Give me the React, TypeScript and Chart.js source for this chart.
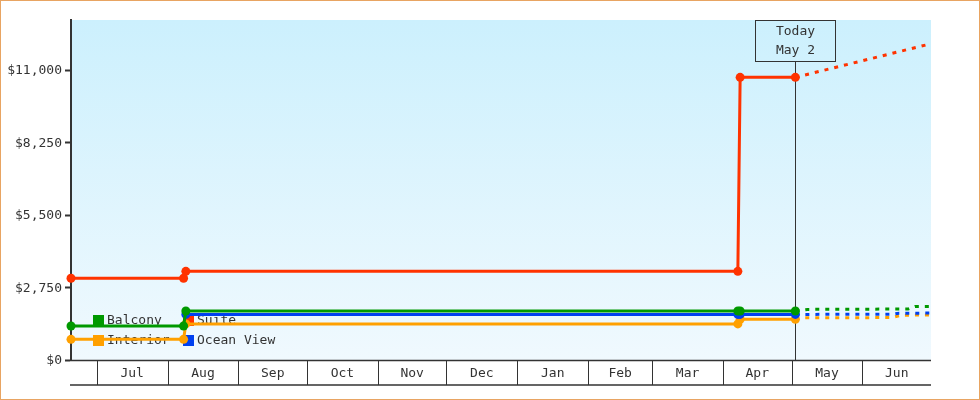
import React, { useEffect, useRef } from "react";
import { Chart, registerables } from "chart.js";

Chart.register(...registerables);

// ---------- data ----------
const AXIS_START = "2024-06-19T18:00:00Z";
const AXIS_END = "2025-07-01T00:00:00Z";
const TODAY = "2025-05-02T16:00:00Z";
const TODAY_LABEL = ["Today", "May 2"];

const MONTH_LABELS = ["Jul", "Aug", "Sep", "Oct", "Nov", "Dec", "Jan", "Feb", "Mar", "Apr", "May", "Jun"];
const MONTH_STARTS = [
  "2024-07-01", "2024-08-01", "2024-09-01", "2024-10-01", "2024-11-01", "2024-12-01",
  "2025-01-01", "2025-02-01", "2025-03-01", "2025-04-01", "2025-05-01", "2025-06-01", "2025-07-01",
];

const Y_MAX = 12900;
const Y_TICKS = [0, 2750, 5500, 8250, 11000];

const SERIES_NAMES = ["Suite", "Balcony", "Ocean View", "Interior"];
const SERIES_COLORS = ["#ff3300", "#009900", "#0040f0", "#ffa000"];

// history (solid, with markers)
const HIST_DATES = [AXIS_START, "2024-08-08", "2024-08-09", "2025-04-07T12:00:00Z", "2025-04-08T12:00:00Z", TODAY];
const suiteHist = [3100, 3100, 3365, 3365, 10725, 10725];
const balconyHist = [1290, 1290, 1860, 1860, 1860, 1860];
const oceanHist = [null, null, 1730, 1730, 1730, 1730];
const interiorHist = [785, 785, 1370, 1370, 1545, 1545];

// projections (dotted, after today)
const suiteProjDates = ["2025-07-01"];
const suiteProj = [12000];
const balconyProjDates = ["2025-05-08", "2025-06-21", "2025-06-24", "2025-07-01"];
const balconyProj = [1920, 1935, 2030, 2035];
const oceanProjDates = ["2025-06-14", "2025-06-17", "2025-07-01"];
const oceanProj = [1735, 1775, 1780];
const interiorProjDates = ["2025-05-06", "2025-06-14", "2025-06-18", "2025-07-01"];
const interiorProj = [1600, 1610, 1700, 1710];

// legend layout order (column-wise)
const LEGEND_ORDER = [["Balcony", "Interior"], ["Suite", "Ocean View"]];

// ---------- helpers ----------
const day = (s: string) => Date.parse(s.length === 10 ? s + "T00:00:00Z" : s) / 86400000;
const FONT = "13px 'DejaVu Sans Mono', monospace";
const INK = "#333333";

function buildPoints(hist: (number | null)[], projDates: string[], proj: number[]) {
  const pts: { x: number; y: number }[] = [];
  HIST_DATES.forEach((d, i) => {
    if (hist[i] !== null) pts.push({ x: day(d), y: hist[i] as number });
  });
  projDates.forEach((d, i) => pts.push({ x: day(d), y: proj[i] }));
  return pts;
}

const SERIES_POINTS = [
  buildPoints(suiteHist, suiteProjDates, suiteProj),
  buildPoints(balconyHist, balconyProjDates, balconyProj),
  buildPoints(oceanHist, oceanProjDates, oceanProj),
  buildPoints(interiorHist, interiorProjDates, interiorProj),
];

const todayX = day(TODAY);

const bgPlugin = {
  id: "bgPlugin",
  beforeDraw(chart: any) {
    const { ctx, chartArea: a } = chart;
    const g = ctx.createLinearGradient(0, a.top, 0, a.bottom);
    g.addColorStop(0, "#ccf0fd");
    g.addColorStop(1, "#f0f9fe");
    ctx.save();
    ctx.fillStyle = g;
    ctx.fillRect(a.left, a.top, a.right - a.left, a.bottom - a.top);
    ctx.restore();
  },
};

const underPlugin = {
  id: "underPlugin",
  beforeDatasetsDraw(chart: any) {
    const { ctx, chartArea: a } = chart;
    const xs = chart.scales.x;
    ctx.save();
    // legend
    ctx.font = FONT;
    ctx.textBaseline = "middle";
    ctx.textAlign = "left";
    LEGEND_ORDER.forEach((col, ci) => {
      col.forEach((name, ri) => {
        const idx = SERIES_NAMES.indexOf(name);
        const sx = a.left + 22 + ci * 90;
        const sy = a.bottom - 45 + ri * 20;
        ctx.fillStyle = SERIES_COLORS[idx];
        ctx.fillRect(sx, sy, 11, 11);
        ctx.fillStyle = INK;
        ctx.fillText(name, sx + 14, sy + 6);
      });
    });
    // today marker
    const tx = Math.round(xs.getPixelForValue(todayX)) + 0.5;
    const bw = 80, bh = 41;
    ctx.strokeStyle = INK;
    ctx.lineWidth = 1;
    ctx.beginPath();
    ctx.moveTo(tx, a.top + bh);
    ctx.lineTo(tx, a.bottom);
    ctx.stroke();
    ctx.strokeRect(tx - bw / 2, a.top + 0.5, bw, bh);
    ctx.fillStyle = INK;
    ctx.textAlign = "center";
    ctx.fillText(TODAY_LABEL[0], tx, a.top + 12);
    ctx.fillText(TODAY_LABEL[1], tx, a.top + 31);
    ctx.restore();
  },
};

const bandPlugin = {
  id: "bandPlugin",
  afterDraw(chart: any) {
    const { ctx, chartArea: a } = chart;
    const xs = chart.scales.x;
    const top = a.bottom;
    const bottom = a.bottom + 25;
    ctx.save();
    ctx.strokeStyle = INK;
    ctx.lineWidth = 1.5;
    ctx.beginPath();
    ctx.moveTo(a.left - 1, top + 0.5);
    ctx.lineTo(a.right, top + 0.5);
    ctx.moveTo(a.left - 1, bottom);
    ctx.lineTo(a.right, bottom);
    ctx.stroke();
    ctx.lineWidth = 1;
    ctx.font = FONT;
    ctx.fillStyle = INK;
    ctx.textAlign = "center";
    ctx.textBaseline = "middle";
    for (let i = 0; i < MONTH_LABELS.length; i++) {
      const x0 = xs.getPixelForValue(day(MONTH_STARTS[i]));
      const x1 = xs.getPixelForValue(day(MONTH_STARTS[i + 1]));
      const px = Math.round(x0) + 0.5;
      ctx.beginPath();
      ctx.moveTo(px, top);
      ctx.lineTo(px, bottom);
      ctx.stroke();
      ctx.fillText(MONTH_LABELS[i], (x0 + x1) / 2, top + 13.5);
    }
    ctx.restore();
  },
};

export default function App() {
  const ref = useRef<HTMLCanvasElement | null>(null);

  useEffect(() => {
    if (!ref.current) return;
    const datasets = SERIES_NAMES.map((name, i) => ({
      label: name,
      data: SERIES_POINTS[i],
      borderColor: SERIES_COLORS[i],
      backgroundColor: SERIES_COLORS[i],
      pointBackgroundColor: SERIES_COLORS[i],
      pointBorderWidth: 0,
      pointRadius: (c: any) => (c.raw && c.raw.x > todayX + 1e-6 ? 0 : 4.5),
      borderWidth: 3,
      tension: 0,
      fill: false,
      clip: false as any,
      segment: {
        borderDash: (c: any) => (c.p0.parsed.x >= todayX - 1e-6 ? [4, 6] : undefined),
      },
    }));

    const chart = new Chart(ref.current, {
      type: "line",
      data: { datasets },
      options: {
        animation: false,
        responsive: false,
        devicePixelRatio: 1,
        layout: { padding: { top: 20, right: 49, bottom: 40, left: 0 } },
        plugins: { legend: { display: false }, tooltip: { enabled: false } },
        scales: {
          x: {
            type: "linear",
            display: false,
            min: day(AXIS_START),
            max: day(AXIS_END),
          },
          y: {
            type: "linear",
            min: 0,
            max: Y_MAX,
            afterBuildTicks: (s: any) => {
              s.ticks = Y_TICKS.map((v) => ({ value: v }));
            },
            afterFit: (s: any) => {
              s.width = 71;
            },
            ticks: {
              font: { family: "'DejaVu Sans Mono', monospace", size: 13 },
              color: INK,
              padding: 3,
              labelOffset: 1,
              callback: (v: any) => "$" + Number(v).toLocaleString("en-US"),
            },
            grid: {
              drawOnChartArea: false,
              drawTicks: true,
              tickLength: 6,
              tickWidth: 2,
              tickColor: INK,
            },
            border: { display: true, color: INK, width: 2 },
          },
        },
      },
      plugins: [bgPlugin, underPlugin, bandPlugin],
    } as any);
    return () => chart.destroy();
  }, []);

  return (
    <div style={{ position: "absolute", left: 0, top: 0, width: 980, height: 400 }}>
      <canvas ref={ref} width={980} height={400} style={{ width: 980, height: 400, display: "block" }} />
      <div
        style={{
          position: "absolute",
          left: 0,
          top: 0,
          width: 980,
          height: 400,
          boxSizing: "border-box",
          border: "1px solid #e8a462",
          pointerEvents: "none",
        }}
      />
    </div>
  );
}
